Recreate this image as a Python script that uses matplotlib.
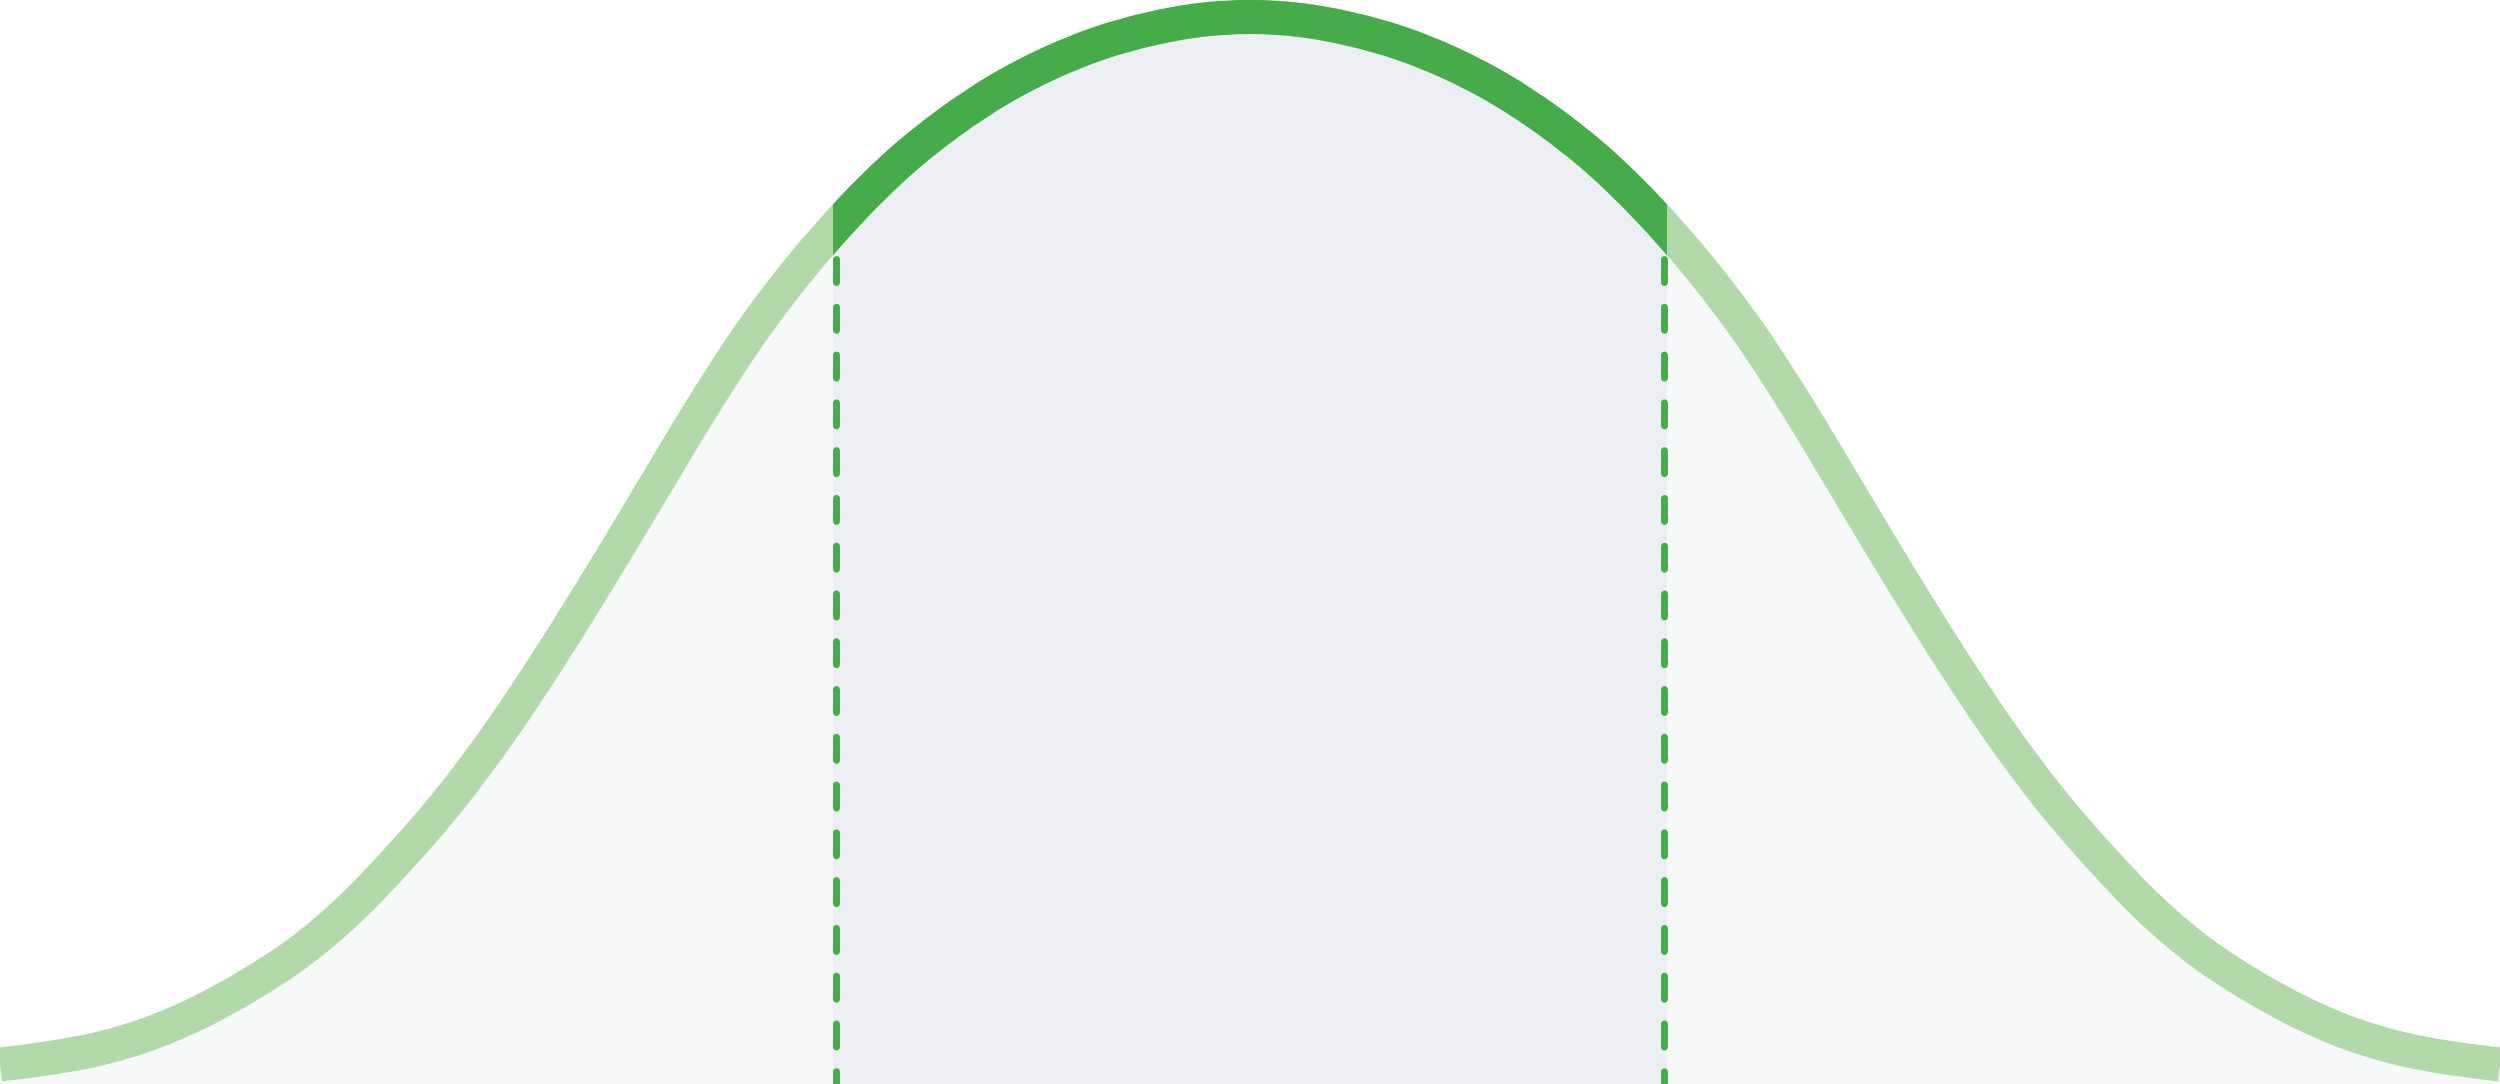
import matplotlib
matplotlib.use("Agg")
import matplotlib.pyplot as plt
import numpy as np
from matplotlib.path import Path
from matplotlib.patches import PathPatch, Rectangle

# Bell curve: x position and height of the curve's centre line
curve_x = [0, 50, 100, 150, 200, 250, 300, 350, 400, 450, 500, 550, 600, 650,
           700, 750, 800, 850, 900, 950, 1000, 1050, 1100, 1150, 1200, 1250,
           1300, 1350, 1400, 1450, 1500, 1550, 1600, 1650, 1700, 1750, 1800,
           1850, 1900, 1950, 2000, 2050, 2100, 2150, 2200, 2250, 2300, 2350,
           2400, 2450, 2500]
curve_h = [19.5, 26, 35.5, 50.5, 72, 99.5, 132.5, 175, 227, 285, 352, 427, 507, 590,
           673, 750, 816, 873, 922, 962, 995, 1021, 1041, 1055, 1064, 1067,
           1064, 1055, 1041, 1021, 995, 962, 922, 873, 816, 750, 673,
           590, 507, 427, 352, 285, 227, 175, 132.5, 99.5, 72, 50.5,
           35.5, 26, 19.5]

# Central band bounded by the two dashed markers
band_left = 833
band_right = 1667
marker_x = [836, 1664]
marker_top = 825.5

W, H = 2500, 1084


def smooth_path(xs, ys):
    xs = np.asarray(xs, float)
    ys = np.asarray(ys, float)
    n = len(xs)
    verts = [(xs[0], ys[0])]
    codes = [Path.MOVETO]
    for i in range(n - 1):
        i0, i3 = max(i - 1, 0), min(i + 2, n - 1)
        dx = xs[i + 1] - xs[i]
        m1 = (ys[i + 1] - ys[i0]) / (xs[i + 1] - xs[i0])
        m2 = (ys[i3] - ys[i]) / (xs[i3] - xs[i])
        c1 = (xs[i] + dx / 3.0, ys[i] + m1 * dx / 3.0)
        c2 = (xs[i + 1] - dx / 3.0, ys[i + 1] - m2 * dx / 3.0)
        verts += [c1, c2, (xs[i + 1], ys[i + 1])]
        codes += [Path.CURVE4] * 3
    return verts, codes


fig = plt.figure(figsize=(25, 10.84), dpi=100)
ax = fig.add_axes([0, 0, 1, 1])
ax.set_xlim(0, W)
ax.set_ylim(0, H)
ax.axis("off")

verts, codes = smooth_path(curve_x, curve_h)

# area under the curve
fill_verts = verts + [(curve_x[-1], -10), (curve_x[0], -10), (curve_x[0], curve_h[0])]
fill_codes = codes + [Path.LINETO, Path.LINETO, Path.CLOSEPOLY]
fill_path = Path(fill_verts, fill_codes)
ax.add_patch(PathPatch(fill_path, facecolor="#F7F8FA", edgecolor="none", zorder=1))
mid_fill = PathPatch(fill_path, facecolor="#ECEEF3", edgecolor="none", zorder=2)
ax.add_patch(mid_fill)
mid_fill.set_clip_path(Rectangle((band_left, -50), band_right - band_left, H + 100,
                                 transform=ax.transData))

# dashed markers
for mx in marker_x:
    ln, = ax.plot([mx, mx], [marker_top, -20], color="#46AC4A", lw=5.0,
                  dash_capstyle="round", zorder=3)
    ln.set_dashes((16.6 / 5.0, 17.8 / 5.0))

# curve stroke: light outside the band, dark inside it
curve_path = Path(verts, codes)
ax.add_patch(PathPatch(curve_path, facecolor="none", edgecolor="#B2D9A9", lw=24.5,
                       capstyle="butt", zorder=4))
dark = PathPatch(curve_path, facecolor="none", edgecolor="#46AC4A", lw=24.5,
                 capstyle="butt", zorder=5)
ax.add_patch(dark)
dark.set_clip_path(Rectangle((band_left, -50), band_right - band_left, H + 100,
                             transform=ax.transData))

fig.savefig("out.png", dpi=100, facecolor="white")
